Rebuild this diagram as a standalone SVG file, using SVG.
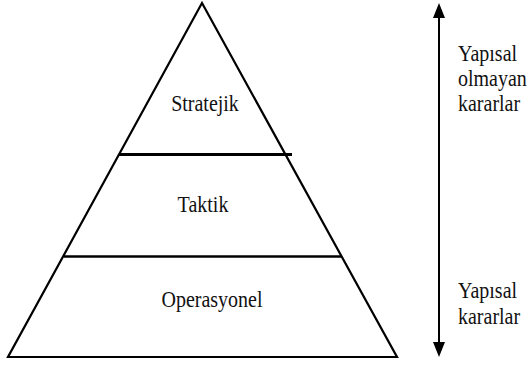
<svg xmlns="http://www.w3.org/2000/svg" width="529" height="367" viewBox="0 0 529 367">
  <style>
    .edge { fill: none; stroke: #000; stroke-linejoin: miter; }
    .lbl { font-family: 'Liberation Serif', 'DejaVu Serif', serif; font-size: 20px; fill: #111; }
    .mid { text-anchor: middle; }
  </style>
  <rect width="529" height="367" fill="#fff"/>

  <!-- pyramid outline -->
  <g id="pyramid">
    <path class="edge" d="M202 3 L397 357 L8 357 Z" stroke-width="2.2"/>
  </g>

  <!-- level dividers and the two-way arrow -->
  <g id="connectors">
    <line class="edge" x1="119" y1="154.5" x2="292" y2="154.5" stroke-width="3.2"/>
    <line class="edge" x1="64" y1="256.5" x2="342" y2="256.5" stroke-width="2.6"/>
    <line class="edge" x1="439" y1="14" x2="439" y2="346" stroke-width="2"/>
    <path d="M439 3 L445 18 L433 18 Z" fill="#000"/>
    <path d="M439 357 L445 342 L433 342 Z" fill="#000"/>
  </g>

  <g id="strategic">
    <text class="lbl mid" font-family="Liberation Serif, DejaVu Serif, serif" transform="translate(205 111) scale(1 1.2)">Stratejik</text>
  </g>
  <g id="tactical">
    <text class="lbl mid" transform="translate(203 212) scale(1 1.2)">Taktik</text>
  </g>
  <g id="operational">
    <text class="lbl mid" transform="translate(212 307) scale(1 1.2)">Operasyonel</text>
  </g>

  <g id="unstructured">
    <text class="lbl" transform="translate(458 61) scale(1 1.2)">Yapısal</text>
    <text class="lbl" transform="translate(458 86) scale(1 1.2)">olmayan</text>
    <text class="lbl" transform="translate(458 111) scale(1 1.2)">kararlar</text>
  </g>
  <g id="structured">
    <text class="lbl" transform="translate(458 298) scale(1 1.2)">Yapısal</text>
    <text class="lbl" transform="translate(458 324) scale(1 1.2)">kararlar</text>
  </g>
</svg>
